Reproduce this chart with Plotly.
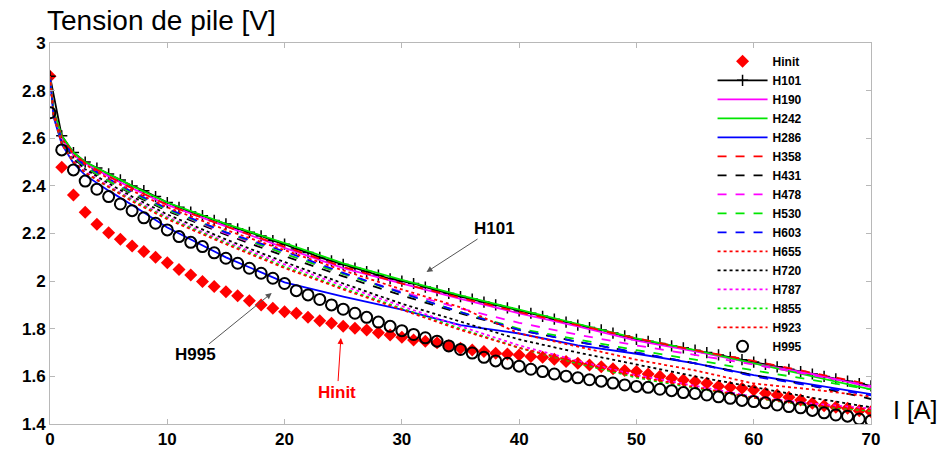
import plotly.graph_objects as go

# ---- data ----
I_pts = list(range(0, 71))

hinit = [2.86, 2.478, 2.362, 2.289, 2.239, 2.203, 2.176, 2.147, 2.124, 2.100,
         2.077, 2.049, 2.026, 1.998, 1.977, 1.955, 1.939, 1.918, 1.900, 1.886,
         1.871, 1.865, 1.848, 1.834, 1.823, 1.811, 1.802, 1.795, 1.783, 1.774,
         1.764, 1.753, 1.747, 1.741, 1.729, 1.718, 1.711, 1.704, 1.697, 1.694,
         1.690, 1.683, 1.680, 1.672, 1.662, 1.655, 1.648, 1.640, 1.632, 1.625,
         1.620, 1.610, 1.601, 1.592, 1.585, 1.578, 1.571, 1.559, 1.554, 1.550,
         1.543, 1.529, 1.522, 1.512, 1.501, 1.487, 1.477, 1.470, 1.466, 1.456,
         1.451]

h101 = [2.86, 2.61, 2.54, 2.50, 2.475, 2.45, 2.425, 2.40, 2.38, 2.355,
        2.33, 2.31, 2.29, 2.275, 2.255, 2.24, 2.22, 2.205, 2.19, 2.17,
        2.155, 2.135, 2.12, 2.10, 2.085, 2.07, 2.055, 2.04, 2.025, 2.01,
        2.00, 1.99, 1.975, 1.96, 1.948, 1.935, 1.925, 1.912, 1.90, 1.888,
        1.875, 1.865, 1.852, 1.84, 1.828, 1.815, 1.805, 1.795, 1.782, 1.77,
        1.755, 1.747, 1.738, 1.728, 1.72, 1.71, 1.70, 1.69, 1.68, 1.67,
        1.66, 1.65, 1.64, 1.63, 1.62, 1.61, 1.60, 1.59, 1.58, 1.57,
        1.56]

h995 = [2.707, 2.551, 2.467, 2.420, 2.386, 2.355, 2.324, 2.296, 2.266, 2.243,
        2.215, 2.187, 2.163, 2.145, 2.119, 2.096, 2.075, 2.054, 2.033, 2.012,
        1.990, 1.960, 1.942, 1.923, 1.900, 1.882, 1.865, 1.848, 1.828, 1.810,
        1.792, 1.776, 1.762, 1.748, 1.728, 1.713, 1.698, 1.680, 1.665, 1.655,
        1.643, 1.630, 1.620, 1.610, 1.601, 1.594, 1.586, 1.580, 1.572, 1.564,
        1.558, 1.554, 1.546, 1.540, 1.532, 1.528, 1.522, 1.514, 1.508, 1.499,
        1.494, 1.489, 1.480, 1.473, 1.468, 1.457, 1.447, 1.438, 1.433, 1.421,
        1.414]

I_curve = [0, 0.3, 1, 2, 3, 5, 7, 10, 15, 20, 25, 30, 35, 40, 45, 50, 55, 60, 65, 70]

h190 = [2.86, 2.71, 2.60, 2.53, 2.495, 2.44, 2.39, 2.32, 2.23, 2.14, 2.055, 1.99, 1.925, 1.865, 1.81, 1.75, 1.705, 1.655, 1.61, 1.555]
h242 = [2.86, 2.72, 2.61, 2.54, 2.50, 2.45, 2.40, 2.33, 2.24, 2.16, 2.075, 2.005, 1.94, 1.88, 1.82, 1.76, 1.71, 1.655, 1.60, 1.545]
h286 = [2.86, 2.69, 2.575, 2.495, 2.445, 2.38, 2.32, 2.225, 2.10, 1.995, 1.935, 1.88, 1.815, 1.78, 1.73, 1.695, 1.655, 1.605, 1.565, 1.525]
h358 = [2.86, 2.71, 2.60, 2.535, 2.495, 2.44, 2.39, 2.32, 2.23, 2.145, 2.06, 1.99, 1.93, 1.87, 1.815, 1.76, 1.71, 1.665, 1.615, 1.565]
h431 = [2.86, 2.70, 2.59, 2.515, 2.475, 2.42, 2.365, 2.295, 2.195, 2.105, 2.02, 1.94, 1.865, 1.795, 1.745, 1.70, 1.655, 1.605, 1.56, 1.505]
h478 = [2.86, 2.70, 2.59, 2.52, 2.48, 2.42, 2.37, 2.30, 2.20, 2.115, 2.03, 1.955, 1.885, 1.825, 1.775, 1.73, 1.69, 1.65, 1.605, 1.56]
h530 = [2.86, 2.70, 2.59, 2.52, 2.48, 2.42, 2.37, 2.30, 2.205, 2.115, 2.03, 1.95, 1.87, 1.80, 1.755, 1.71, 1.67, 1.625, 1.585, 1.545]
h603 = [2.86, 2.70, 2.595, 2.525, 2.485, 2.43, 2.375, 2.305, 2.205, 2.125, 2.035, 1.95, 1.87, 1.795, 1.745, 1.70, 1.655, 1.60, 1.56, 1.52]
h655 = [2.86, 2.71, 2.60, 2.53, 2.49, 2.43, 2.38, 2.31, 2.215, 2.13, 2.045, 1.965, 1.89, 1.78, 1.725, 1.67, 1.625, 1.57, 1.545, 1.515]
h720 = [2.86, 2.70, 2.585, 2.51, 2.47, 2.41, 2.355, 2.28, 2.175, 2.08, 1.99, 1.905, 1.83, 1.755, 1.70, 1.65, 1.60, 1.555, 1.51, 1.47]
h787 = [2.86, 2.70, 2.58, 2.505, 2.46, 2.40, 2.345, 2.27, 2.165, 2.07, 1.98, 1.895, 1.81, 1.73, 1.665, 1.605, 1.56, 1.515, 1.485, 1.465]
h855 = [2.86, 2.70, 2.58, 2.50, 2.455, 2.395, 2.34, 2.265, 2.16, 2.06, 1.97, 1.885, 1.80, 1.72, 1.655, 1.595, 1.55, 1.51, 1.475, 1.455]
h923 = [2.86, 2.70, 2.575, 2.50, 2.455, 2.395, 2.335, 2.26, 2.155, 2.055, 1.965, 1.88, 1.795, 1.72, 1.66, 1.60, 1.555, 1.51, 1.48, 1.46]

x_ticks = [0, 10, 20, 30, 40, 50, 60, 70]
y_ticks = [1.4, 1.6, 1.8, 2.0, 2.2, 2.4, 2.6, 2.8, 3.0]

FONT = "Liberation Sans, Arial, sans-serif"
RED, GREEN, BLUE, MAG, BLK = "#ff0000", "#00e600", "#0000ff", "#ff00ff", "#000000"

fig = go.Figure()

fig.add_trace(go.Scatter(x=I_pts, y=hinit, name="Hinit", mode="markers",
                         marker=dict(symbol="diamond", size=10, color=RED)))
fig.add_trace(go.Scatter(x=I_pts, y=h101, name="H101", mode="lines+markers",
                         line=dict(color=BLK, width=1.8),
                         marker=dict(symbol="cross-thin", size=8, color=BLK,
                                     line=dict(color=BLK, width=1.5))))

line_series = [
    ("H190", h190, MAG, "solid"),
    ("H242", h242, GREEN, "solid"),
    ("H286", h286, BLUE, "solid"),
    ("H358", h358, RED, "dash"),
    ("H431", h431, BLK, "dash"),
    ("H478", h478, MAG, "dash"),
    ("H530", h530, GREEN, "dash"),
    ("H603", h603, BLUE, "dash"),
    ("H655", h655, RED, "dot"),
    ("H720", h720, BLK, "dot"),
    ("H787", h787, MAG, "dot"),
    ("H855", h855, GREEN, "dot"),
    ("H923", h923, RED, "dot"),
]
for name, vals, col, dash in line_series:
    fig.add_trace(go.Scatter(x=I_curve, y=vals, name=name, mode="lines",
                             line=dict(color=col, width=1.8, dash=dash)))

fig.add_trace(go.Scatter(x=I_pts, y=h995, name="H995", mode="markers",
                         marker=dict(symbol="circle-open", size=11, color=BLK,
                                     line=dict(color=BLK, width=2))))

axis_common = dict(showline=True, linecolor="#b8b8b8", linewidth=1, mirror="ticks",
                   ticks="inside", ticklen=5, tickcolor="#b8b8b8", showgrid=False,
                   zeroline=False, automargin=False,
                   tickfont=dict(family=FONT, size=17, color="black", weight="bold"))

fig.update_xaxes(range=[0, 70], tickvals=x_ticks, **axis_common)
fig.update_yaxes(range=[1.4, 3.0], tickvals=y_ticks, **axis_common)

annos = [
    dict(x=32.1, y=2.038, ax=37.9, ay=2.223, text="<b>H101</b>", color="black", acol="#555555"),
    dict(x=18.9, y=1.950, ax=12.4, ay=1.690, text="<b>H995</b>", color="black", acol="#555555"),
    dict(x=24.8, y=1.761, ax=24.5, ay=1.534, text="<b>Hinit</b>", color=RED, acol=RED),
]
for a in annos:
    fig.add_annotation(x=a["x"], y=a["y"], ax=a["ax"], ay=a["ay"], xref="x", yref="y",
                       axref="x", ayref="y", text=a["text"], showarrow=True,
                       arrowhead=2, arrowsize=1.2, arrowwidth=1, arrowcolor=a["acol"],
                       font=dict(family=FONT, size=17, color=a["color"]))

fig.add_annotation(x=0, y=1.0, xref="paper", yref="paper", xanchor="left", yanchor="middle",
                   xshift=-5, yshift=23, text="Tension de pile [V]", showarrow=False,
                   font=dict(family=FONT, size=28, color="black"))
fig.add_annotation(x=1.0828, y=0, xref="paper", yref="paper", xanchor="right", yanchor="middle",
                   xshift=0, yshift=14, text="I [A]", showarrow=False,
                   font=dict(family=FONT, size=25, color="black"))

fig.update_layout(
    width=941, height=451,
    margin=dict(l=50, r=70, t=43, b=27, autoexpand=False),
    paper_bgcolor="white", plot_bgcolor="white",
    showlegend=True,
    legend=dict(x=0.807, y=0.99, xanchor="left", yanchor="top",
                bgcolor="rgba(255,255,255,0)", borderwidth=0,
                font=dict(family=FONT, size=12, color="black", weight="bold"),
                tracegroupgap=0, itemwidth=50, maxheight=420),
)

fig.write_html("out.html", config={"displayModeBar": False},
               post_script="document.body.style.margin='0';")
